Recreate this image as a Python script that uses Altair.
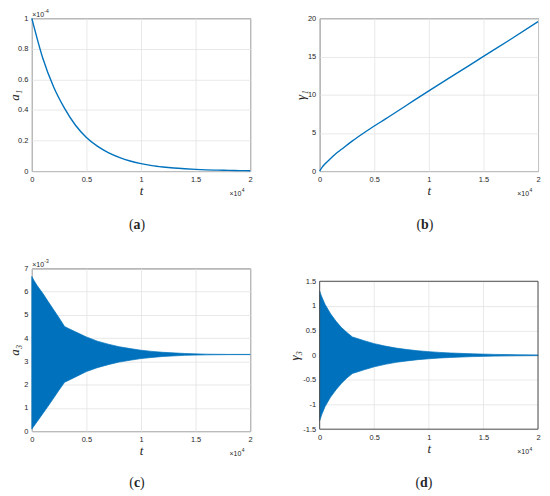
import altair as alt
import pandas as pd

BLUE = "#0072BD"
INK = "#262626"
GRID = "#e3e3e3"
FRAME = "#4d4d4d"

# ---------------- data (t in units of 1e4) ----------------
# (a) a1, values in units of 1e-4
t_a1 = [0, 0.1, 0.2, 0.3, 0.4, 0.5, 0.6, 0.7, 0.8, 0.9, 1.0,
        1.1, 1.2, 1.3, 1.4, 1.5, 1.6, 1.7, 1.8, 1.9, 2.0]
a1 = [1.0, 0.74, 0.55, 0.41, 0.30, 0.22, 0.163, 0.121, 0.09, 0.066, 0.049,
      0.036, 0.027, 0.020, 0.015, 0.011, 0.008, 0.006, 0.0045, 0.0033, 0.0025]

# (b) gamma1
t_g1 = [0, 0.025, 0.05, 0.1, 0.15, 0.2, 0.3, 0.4, 0.5, 0.6, 0.8,
        1.0, 1.25, 1.5, 1.75, 2.0]
g1 = [0, 0.55, 0.95, 1.65, 2.3, 2.85, 3.95, 4.95, 5.9, 6.8, 8.65,
      10.5, 12.75, 15.0, 17.25, 19.55]

# (c), (d) envelopes of the fast oscillation
t3 = [0, 0.02, 0.05, 0.1, 0.15, 0.2, 0.25, 0.3, 0.33, 0.4, 0.5, 0.6,
      0.7, 0.8, 0.9, 1.0, 1.1, 1.2, 1.4, 1.6, 1.8, 2.0]
# a3 in units of 1e-3
a3_hi = [6.65, 6.48, 6.25, 5.93, 5.57, 5.22, 4.87, 4.5, 4.43, 4.27, 4.05, 3.87,
         3.74, 3.63, 3.55, 3.48, 3.43, 3.39, 3.34, 3.31, 3.30, 3.30]
a3_lo = [0.09, 0.22, 0.42, 0.75, 1.08, 1.42, 1.77, 2.1, 2.17, 2.33, 2.56, 2.73,
         2.86, 2.97, 3.05, 3.12, 3.17, 3.21, 3.26, 3.28, 3.29, 3.29]
g3_hi = [1.30, 1.18, 1.03, 0.84, 0.69, 0.56, 0.46, 0.37, 0.35, 0.30, 0.235, 0.185,
         0.145, 0.115, 0.09, 0.072, 0.057, 0.045, 0.028, 0.017, 0.010, 0.006]
g3_lo = [-1.33, -1.20, -1.04, -0.85, -0.70, -0.57, -0.46, -0.37, -0.35, -0.30, -0.235, -0.185,
         -0.145, -0.115, -0.09, -0.072, -0.057, -0.045, -0.028, -0.017, -0.010, -0.006]

x_ticks = [0, 0.5, 1, 1.5, 2]
ya_ticks = [0, 0.2, 0.4, 0.6, 0.8, 1]
yb_ticks = [0, 5, 10, 15, 20]
yc_ticks = [0, 1, 2, 3, 4, 5, 6, 7]
yd_ticks = [-1.5, -1, -0.5, 0, 0.5, 1, 1.5]

df_a = pd.DataFrame({"t": t_a1, "v": a1})
df_b = pd.DataFrame({"t": t_g1, "v": g1})
df_c = pd.DataFrame({"t": t3, "hi": a3_hi, "lo": a3_lo})
df_d = pd.DataFrame({"t": t3, "hi": g3_hi, "lo": g3_lo})
df_grid = pd.DataFrame({"t": x_ticks})
one = pd.DataFrame({"k": [0]})

W = 220


def ax(**kw):
    d = dict(labelExpr="toString(datum.value)", labelFont="Liberation Sans",
             labelFontSize=7.5, labelColor=INK, labelPadding=4, labelFlush=False,
             labelOverlap=False, ticks=False, domain=False, grid=True,
             gridColor=GRID, gridWidth=0.8, titleFont="Liberation Serif",
             titleFontSize=13, titleFontStyle="italic", titleFontWeight="normal",
             titleColor=INK, titleBaseline="alphabetic", titleAlign="center")
    d.update(kw)
    return alt.Axis(**d)


def xenc(w, grid=True):
    return alt.X("t:Q", scale=alt.Scale(domain=[0, 2], nice=False, zero=False),
                 axis=ax(values=x_ticks, title="t", titleX=w / 2, titleY=24, grid=grid))


def yenc(field, dom, ticks, title, tx, ty, rng=None):
    sc = dict(domain=dom, nice=False, zero=False)
    if rng is not None:
        sc["range"] = rng
    return alt.Y(field, scale=alt.Scale(**sc),
                 axis=ax(values=ticks, title=title, titleX=tx, titleY=ty, titleAngle=270))


def txt(text, x, y, size, align="left", baseline="alphabetic",
        font="Liberation Sans", weight="normal"):
    return alt.Chart(one).mark_text(
        text=text, align=align, baseline=baseline, font=font, fontSize=size,
        fontWeight=weight, color=INK).encode(x=alt.value(x), y=alt.value(y))


def caption(letter, cx, cy, half):
    return [
        txt("(", cx - half, cy, 14, align="right", baseline="middle", font="Liberation Serif"),
        txt(letter, cx, cy, 14, align="center", baseline="middle", font="Liberation Serif", weight="bold"),
        txt(")", cx + half, cy, 14, align="left", baseline="middle", font="Liberation Serif"),
    ]


def exp_top(p, top=0):
    return [txt("×10", 0.5, top - 1.5, 7), txt(p, 12.5, top - 5, 5)]


def exp_bottom(w, h):
    return [txt("×10", w - 9, h + 25, 7, align="right"), txt("4", w - 8.5, h + 21.5, 5)]


# ---------------- panel (a) ----------------
Ha = 154
anchor = alt.Chart(one).mark_rule(opacity=0, strokeWidth=1).encode(
    x=alt.value(-23.5), x2=alt.value(-23.5), y=alt.value(-12), y2=alt.value(-11))
line_a = alt.Chart(df_a).mark_line(color=BLUE, strokeWidth=1.4, interpolate="monotone").encode(
    x=xenc(W), y=yenc("v:Q", [0, 1], ya_ticks, "a₁", -13, Ha / 2))
pa = alt.layer(line_a, anchor, *exp_top("-4"), *exp_bottom(W, Ha),
               *caption("a", 106, 208, 3.5)).properties(width=W, height=Ha)

# ---------------- panel (b) ----------------
Hb = 154
line_b = alt.Chart(df_b).mark_line(color=BLUE, strokeWidth=1.4, interpolate="monotone").encode(
    x=xenc(W), y=yenc("v:Q", [0, 20], yb_ticks, "γ₁", -15, Hb / 2))
pb = alt.layer(line_b, *exp_bottom(W, Hb),
               *caption("b", 106, 208, 3.9)).properties(width=W, height=Hb)

# ---------------- panel (c) ----------------
Hc = 164
area_c = alt.Chart(df_c).mark_area(color=BLUE, opacity=1, stroke=BLUE, strokeWidth=0.7).encode(
    x=xenc(W), y=yenc("hi:Q", [0, 7], yc_ticks, "a₃", -13, Hc / 2), y2="lo:Q")
pc = alt.layer(area_c, *exp_top("-3"), *exp_bottom(W, Hc),
               *caption("c", 106, 216, 3.1)).properties(width=W, height=Hc)

# ---------------- panel (d) ----------------
Hd = 162
Td = 13
xd = xenc(W, grid=False)
grid_d = alt.Chart(df_grid).mark_rule(color=GRID, strokeWidth=0.8).encode(
    x=xd, y=alt.value(Td), y2=alt.value(Hd))
area_d = alt.Chart(df_d).mark_area(color=BLUE, opacity=1, stroke=BLUE, strokeWidth=0.7).encode(
    x=xd, y=yenc("hi:Q", [-1.5, 1.5], yd_ticks, "γ₃", -21, (Td + Hd) / 2, rng=[Hd, Td]), y2="lo:Q")
frame_d = alt.Chart(one).mark_rect(fillOpacity=0, stroke=FRAME, strokeWidth=1).encode(
    x=alt.value(0), x2=alt.value(W), y=alt.value(Td), y2=alt.value(Hd))
pd_ = alt.layer(grid_d, area_d, frame_d, *exp_bottom(W, Hd),
                *caption("d", 105, Td + 203, 3.9)).properties(
    width=W, height=Hd, view=alt.ViewBackground(stroke="transparent"))

chart = alt.concat(pa, pb, pc, pd_, columns=2, bounds="flush",
                   spacing=alt.RowColnumber(row=98, column=70)).properties(
    padding={"left": 0, "top": -4.5, "right": 0, "bottom": 0},
    background="white",
).configure_view(stroke=FRAME, strokeWidth=1)

chart.save("out.html", embed_options={"renderer": "svg", "actions": False})
